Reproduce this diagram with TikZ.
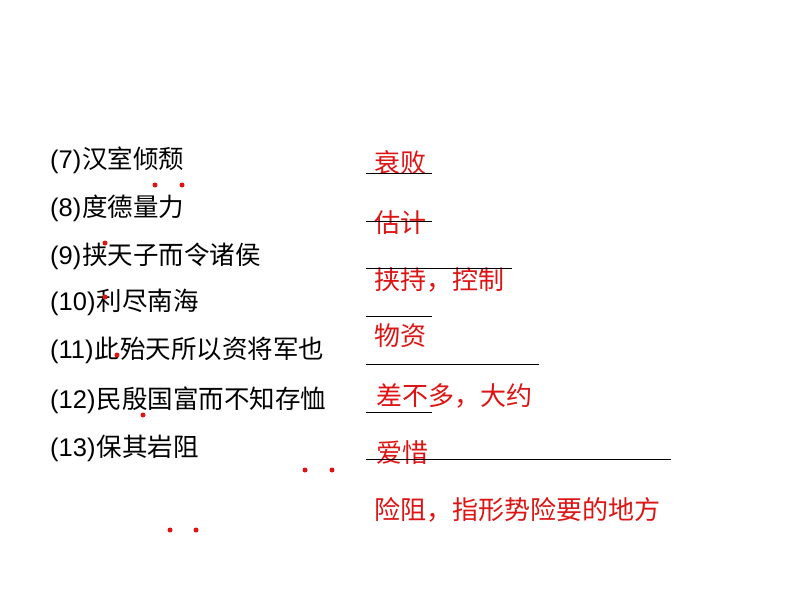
\documentclass[tikz,border=0pt]{standalone}
\usepackage{fontspec}
\setmainfont{Noto Sans CJK SC}
\newfontfamily\numf{Liberation Sans}
\definecolor{ans}{RGB}{220,20,20}
\newcommand{\qn}[1]{{\numf(#1)\hspace{1pt}}}
\begin{document}
\begin{tikzpicture}[x=1pt,y=-1pt,
  q/.style={anchor=west,inner sep=0pt,font=\fontsize{25.5}{26}\selectfont},
  a/.style={anchor=west,inner sep=0pt,text=ans,font=\fontsize{26}{26}\selectfont},
  ul/.style={line width=1pt},
  dotm/.style={circle,fill=ans,inner sep=0pt,minimum size=5pt}]
\useasboundingbox (0,0) rectangle (794,596);
\node[q] (q7) at (50,160) {\qn{7}汉室倾颓};
\node[q] (q8) at (50,208) {\qn{8}度德量力};
\node[q] (q9) at (50,256) {\qn{9}挟天子而令诸侯};
\node[q] (q10) at (50,302) {\qn{10}利尽南海};
\node[q] (q11) at (50,350) {\qn{11}此殆天所以资将军也};
\node[q] (q12) at (50,400) {\qn{12}民殷国富而不知存恤};
\node[q] (q13) at (50,448) {\qn{13}保其岩阻};
\node[a] (a7) at (374,163) {衰败};
\node[a] (a8) at (374,223) {估计};
\node[a] (a9) at (374,280) {挟持，控制};
\node[a] (a10) at (374,336) {物资};
\node[a] (a11) at (376,396) {差不多，大约};
\node[a] (a12) at (376,453) {爱惜};
\node[a] (a13) at (374,510) {险阻，指形势险要的地方};
\coordinate (l1a) at (366,173); \coordinate (l1b) at (432,173);
\coordinate (l2a) at (366,221); \coordinate (l2b) at (432,221);
\coordinate (l3a) at (366,268); \coordinate (l3b) at (512,268);
\coordinate (l4a) at (366,316); \coordinate (l4b) at (432,316);
\coordinate (l5a) at (366,364); \coordinate (l5b) at (539,364);
\coordinate (l6a) at (366,412); \coordinate (l6b) at (432,412);
\coordinate (l7a) at (366,459); \coordinate (l7b) at (671,459);
\foreach \i in {1,...,7} \draw[ul] (l\i a) -- (l\i b);
\foreach \p [count=\k] in {(155,185),(182,185),(105,243),(105,297),(117,355),(143,415),(305,470),(332,470),(170,530),(196,530)}
  \node[dotm] (d\k) at \p {};
\end{tikzpicture}
\end{document}
